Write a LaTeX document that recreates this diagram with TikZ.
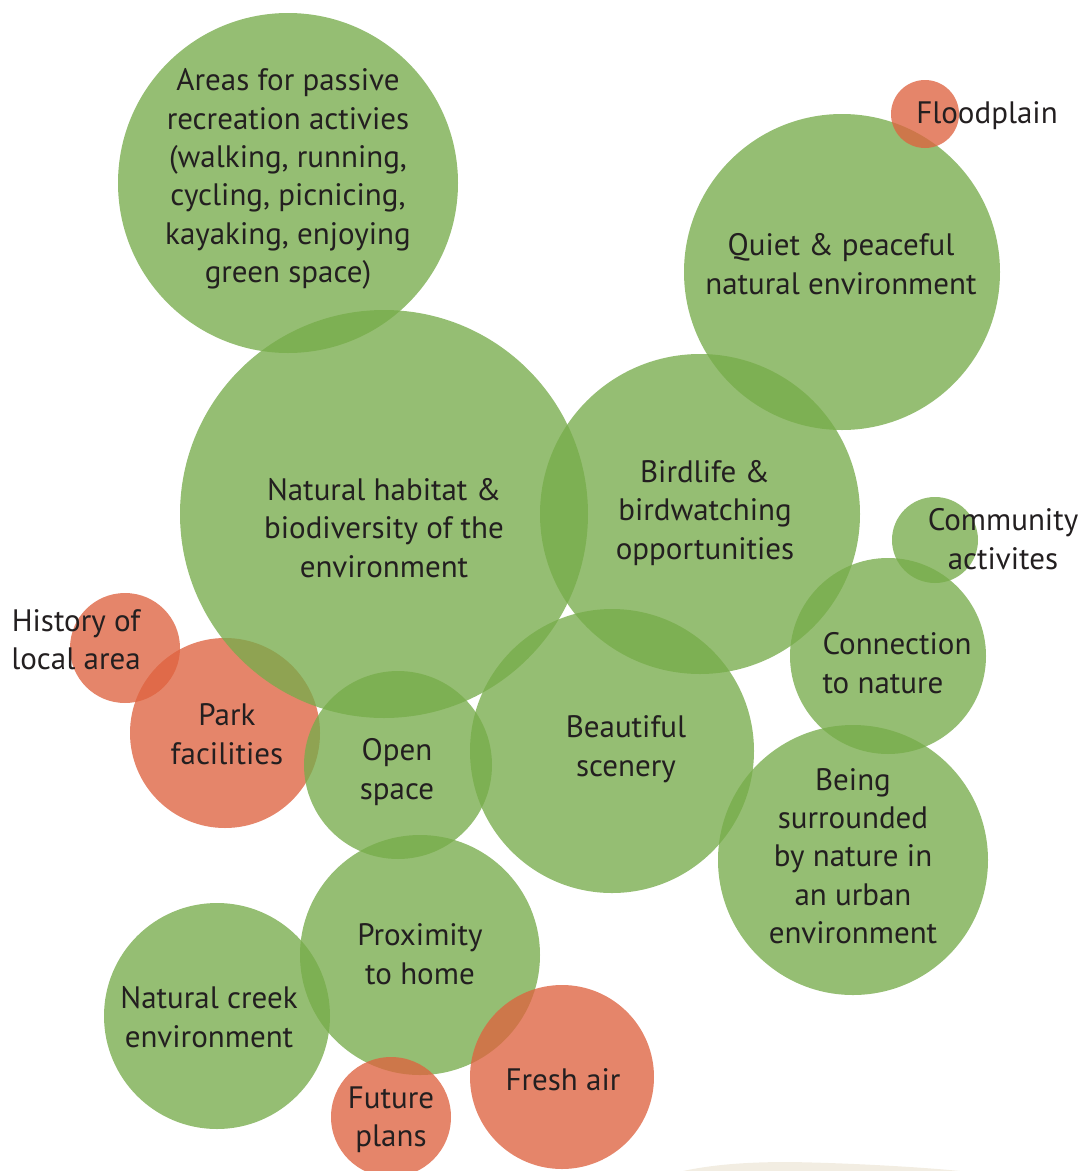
\documentclass[tikz,border=0pt]{standalone}
\usepackage{fontspec}
\setmainfont{PT Sans}
\usepackage{tikz}
\definecolor{bubbleGreen}{RGB}{119,172,75}
\definecolor{bubbleRed}{RGB}{222,99,64}
\definecolor{labelInk}{RGB}{35,31,32}
\definecolor{sandShade}{RGB}{242,237,226}
\tikzset{
     greenBubble/.style =
        { circle
        , inner sep=0pt
        , fill=bubbleGreen
        , fill opacity=0.78
        , minimum size=#1
        },
     redBubble/.style =
        { circle
        , inner sep=0pt
        , fill=bubbleRed
        , fill opacity=0.78
        , minimum size=#1
        },
     bubbleLabel/.style =
        { align=center
        , text=labelInk
        , font=\fontsize{31}{38.4}\selectfont
        }
}
\begin{document}
\begin{tikzpicture}
            [ x=1pt
            , y=-1pt
            ]
            \useasboundingbox (0,0) rectangle (1088,1171);
            % sand strip at the bottom
            \fill[sandShade] (683,1171) .. controls (720,1163) and (760,1162) .. (790,1162)
                .. controls (850,1163) and (920,1167) .. (960,1171) -- cycle;

            % red bubbles lying under the green ones
            \node[redBubble=110pt] (history) at (125,648) {};
            \node[redBubble=190pt] (park) at (225,733) {};

            % green bubbles
            \node[greenBubble=340pt] (passive) at (288,183) {};
            \node[greenBubble=316pt] (quiet) at (842,272) {};
            \node[greenBubble=408pt] (habitat) at (384,514) {};
            \node[greenBubble=320pt] (birdlife) at (700,514) {};
            \node[greenBubble=86pt] (community) at (935,540) {};
            \node[greenBubble=196pt] (connection) at (888,656) {};
            \node[greenBubble=188pt] (open) at (398,765) {};
            \node[greenBubble=284pt] (scenery) at (612,751) {};
            \node[greenBubble=270pt] (surrounded) at (853,860) {};
            \node[greenBubble=240pt] (proximity) at (420,955) {};
            \node[greenBubble=226pt] (creek) at (217,1016) {};

            % red bubbles lying on top
            \node[redBubble=68pt] (flood) at (925,114) {};
            \node[redBubble=184pt] (fresh) at (562,1077) {};
            \node[redBubble=120pt] (future) at (391,1117) {};

            % labels
            \node[bubbleLabel] (passiveText) at (288,179) {Areas for passive\\recreation activies\\(walking, running,\\cycling, picnicing,\\kayaking, enjoying\\green space)};
            \node[bubbleLabel] (floodText) at (987,116) {Floodplain};
            \node[bubbleLabel] (quietText) at (841,264) {Quiet \& peaceful\\natural environment};
            \node[bubbleLabel] (habitatText) at (384,528) {Natural habitat \&\\biodiversity of the\\environment};
            \node[bubbleLabel] (birdlifeText) at (705,513) {Birdlife \&\\birdwatching\\opportunities};
            \node[bubbleLabel] (communityText) at (1003,539) {Community\\activites};
            \node[bubbleLabel, align=left, anchor=west] (connectionText) at (819,663) {Connection\\to nature};
            \node[bubbleLabel] (historyText) at (76,640) {History of\\local area};
            \node[bubbleLabel] (parkText) at (227,734) {Park\\facilities};
            \node[bubbleLabel] (openText) at (397,772) {Open\\space};
            \node[bubbleLabel] (sceneryText) at (626,749) {Beautiful\\scenery};
            \node[bubbleLabel] (surroundedText) at (853,856) {Being\\surrounded\\by nature in\\an urban\\environment};
            \node[bubbleLabel] (proximityText) at (420,954) {Proximity\\to home};
            \node[bubbleLabel] (creekText) at (209,1017) {Natural creek\\environment};
            \node[bubbleLabel] (futureText) at (391,1120) {Future\\plans};
            \node[bubbleLabel] (freshText) at (563,1080) {Fresh air};
        \end{tikzpicture}
\end{document}
